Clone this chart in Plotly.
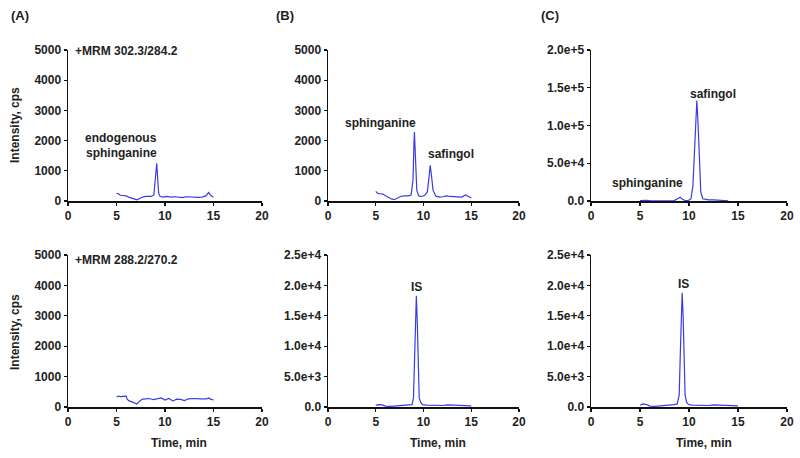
import plotly.graph_objects as go

# ---- data ----
a1_t = [5.0, 5.2, 5.4, 5.6, 5.8, 6.0, 6.3, 6.6, 6.9, 7.1, 7.4, 7.7, 8.0, 8.3, 8.6, 8.85, 9.0, 9.1, 9.15, 9.25, 9.35, 9.5, 9.8, 10.2, 10.6, 11.0, 11.4, 11.8, 12.2, 12.6, 13.0, 13.4, 13.8, 14.2, 14.5, 14.7, 15.0]
a1_y = [250, 240, 190, 190, 170, 170, 120, 100, 60, 40, 90, 130, 150, 140, 150, 200, 700, 1150, 1250, 700, 250, 150, 130, 150, 130, 140, 130, 110, 140, 130, 140, 120, 130, 170, 280, 190, 120]

b1_t = [5.0, 5.2, 5.5, 5.8, 6.1, 6.4, 6.7, 7.0, 7.3, 7.6, 8.0, 8.4, 8.7, 8.9, 9.0, 9.05, 9.15, 9.3, 9.5, 9.8, 10.1, 10.4, 10.55, 10.7, 10.85, 11.0, 11.3, 11.7, 12.0, 12.4, 12.8, 13.2, 13.6, 14.0, 14.4, 14.7, 15.0]
b1_y = [320, 250, 240, 220, 160, 110, 60, 50, 100, 150, 170, 170, 200, 700, 1900, 2280, 1500, 350, 170, 150, 180, 300, 700, 1180, 800, 350, 160, 130, 140, 170, 150, 140, 120, 130, 200, 150, 100]

c1_t = [5.0, 5.3, 5.6, 6.0, 6.5, 7.0, 7.5, 8.0, 8.5, 8.9, 9.1, 9.3, 9.6, 9.9, 10.2, 10.4, 10.55, 10.7, 10.8, 10.9, 11.05, 11.2, 11.4, 11.7, 12.0, 12.5, 13.0, 13.5, 14.0]
c1_y = [500, 1200, 1000, 600, 300, 200, 200, 300, 500, 3000, 5000, 2500, 500, 400, 3000, 20000, 70000, 125000, 133000, 110000, 50000, 12000, 3000, 1800, 1500, 1500, 1200, 800, 300]

a2_t = [5.0, 5.2, 5.4, 5.6, 5.8, 6.0, 6.1, 6.3, 6.6, 6.9, 7.1, 7.4, 7.7, 8.0, 8.4, 8.8, 9.2, 9.6, 10.0, 10.4, 10.8, 11.2, 11.6, 12.0, 12.4, 12.8, 13.2, 13.6, 14.0, 14.3, 14.5, 14.7, 15.0]
a2_y = [330, 360, 340, 340, 350, 360, 260, 200, 170, 120, 100, 200, 260, 270, 280, 240, 270, 300, 230, 280, 200, 260, 250, 210, 270, 280, 280, 270, 260, 270, 300, 260, 230]

b2_t = [5.0, 5.3, 5.7, 6.0, 6.5, 7.0, 7.5, 8.0, 8.5, 8.8, 8.95, 9.05, 9.15, 9.25, 9.35, 9.45, 9.55, 9.7, 9.9, 10.3, 11.0, 12.0, 12.5, 13.0, 14.0, 15.0]
b2_y = [300, 400, 350, 150, 100, 150, 250, 300, 300, 400, 1500, 8000, 15000, 18300, 14000, 6000, 1500, 800, 400, 300, 250, 250, 350, 300, 250, 200]

c2_t = [5.0, 5.3, 5.7, 6.0, 6.5, 7.0, 7.5, 8.0, 8.5, 8.8, 9.0, 9.1, 9.2, 9.3, 9.4, 9.5, 9.6, 9.75, 9.95, 10.3, 11.0, 12.0, 12.5, 13.0, 14.0, 15.0]
c2_y = [300, 500, 400, 150, 100, 150, 300, 350, 400, 500, 2000, 8000, 15000, 18800, 15000, 7000, 2000, 800, 400, 300, 250, 250, 350, 300, 250, 200]

x_ticks = [0, 5, 10, 15, 20]
y_ticks_cps = [0, 1000, 2000, 3000, 4000, 5000]
y_ticks_c1 = [0, 50000, 100000, 150000, 200000]
y_text_c1 = ["0.0", "5.0e+4", "1.0e+5", "1.5e+5", "2.0e+5"]
y_ticks_is = [0, 5000, 10000, 15000, 20000, 25000]
y_text_is = ["0.0", "5.0e+3", "1.0e+4", "1.5e+4", "2.0e+4", "2.5e+4"]

W, H = 800, 458
def px_x(p): return p / W
def px_y(p): return 1 - p / H

x_doms = [(68, 262), (328, 519), (591, 787)]
y_doms = [(50, 201), (255, 407)]

FAM = "Liberation Sans, Arial, sans-serif"
TXT = "#222222"

fig = go.Figure()
panels = [
    (a1_t, a1_y, 0, 0, [0, 5000], y_ticks_cps, None),
    (b1_t, b1_y, 0, 1, [0, 5000], y_ticks_cps, None),
    (c1_t, c1_y, 0, 2, [0, 200000], y_ticks_c1, y_text_c1),
    (a2_t, a2_y, 1, 0, [0, 5000], y_ticks_cps, None),
    (b2_t, b2_y, 1, 1, [0, 25000], y_ticks_is, y_text_is),
    (c2_t, c2_y, 1, 2, [0, 25000], y_ticks_is, y_text_is),
]
LINE = "#3b3be6"
for i, (t, y, r, c, yr, yt, ytt) in enumerate(panels):
    n = i + 1
    xs = "x" if n == 1 else f"x{n}"
    ys = "y" if n == 1 else f"y{n}"
    fig.add_trace(go.Scatter(x=t, y=y, mode="lines", line=dict(color=LINE, width=1.2),
                             xaxis=xs, yaxis=ys, showlegend=False, hoverinfo="skip"))
    xd = x_doms[c]; yd = y_doms[r]
    common = dict(showgrid=False, zeroline=False, showline=True, linecolor="#111111", linewidth=1.5,
                  ticks="outside", ticklen=3, tickwidth=1.2, tickcolor="#111111", automargin=False,
                  tickfont=dict(family=FAM, size=12, color=TXT, weight="bold"))
    fig.layout[f"xaxis{'' if n == 1 else n}"] = dict(
        domain=[px_x(xd[0]), px_x(xd[1])], range=[0, 20], tickvals=x_ticks,
        anchor=ys, **common)
    yax = dict(domain=[px_y(yd[1]), px_y(yd[0])], range=yr, tickvals=yt, anchor=xs, **common)
    if ytt is not None:
        yax["ticktext"] = ytt
    fig.layout[f"yaxis{'' if n == 1 else n}"] = yax

ann = []
def A(text, x, y, xa="center", ya="middle", size=12, angle=0):
    ann.append(dict(text=f"<b>{text}</b>", x=px_x(x), y=px_y(y), xref="paper", yref="paper",
                    xanchor=xa, yanchor=ya, showarrow=False, textangle=angle,
                    font=dict(family=FAM, size=size, color=TXT)))

A("(A)", 9, 16, xa="left", size=13)
A("(B)", 274, 16, xa="left", size=13)
A("(C)", 539, 16, xa="left", size=13)
A("+MRM 302.3/284.2", 73, 51, xa="left")
A("endogenous", 121, 138)
A("sphinganine", 121, 153)
A("sphinganine", 380, 123)
A("safingol", 451, 154)
A("safingol", 713, 94)
A("sphinganine", 647, 183)
A("+MRM 288.2/270.2", 73, 260, xa="left")
A("IS", 416, 287)
A("IS", 683, 284)
for cx in [179, 438, 704]:
    A("Time, min", cx, 443)
for cy in [125, 332]:
    A("Intensity, cps", 15, cy, angle=-90)

fig.update_layout(width=W, height=H, margin=dict(l=0, r=0, t=0, b=0, autoexpand=False),
                  paper_bgcolor="white", plot_bgcolor="white", annotations=ann,
                  font=dict(family=FAM, size=12, color=TXT))
fig.write_html("out.html", config={"displayModeBar": False, "staticPlot": True},
               post_script="document.body.style.margin='0';document.body.style.padding='0';")
